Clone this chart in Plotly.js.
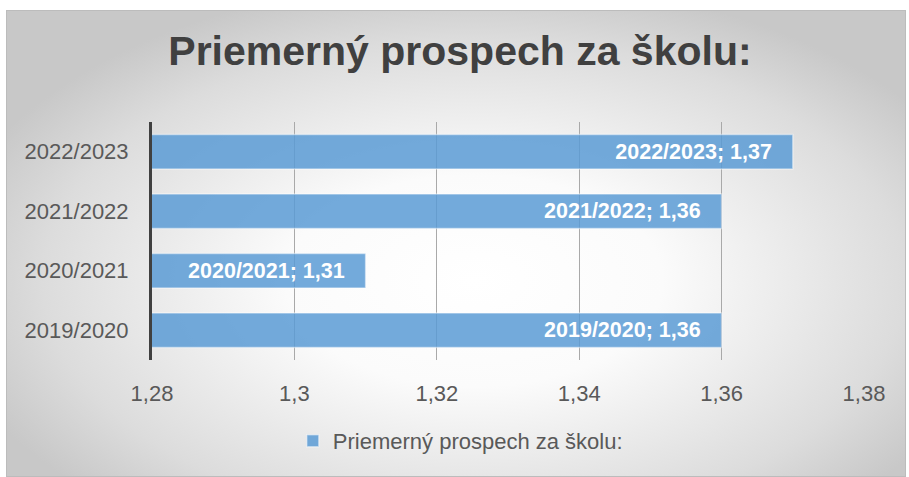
<!DOCTYPE html>
<html>
<head>
<meta charset="utf-8">
<script src="https://cdn.plot.ly/plotly-3.0.1.min.js"></script>
<style>
  html, body { margin: 0; padding: 0; background: #ffffff; }
  #wrap { position: relative; width: 909px; height: 477px; overflow: hidden; }
  #bg {
    position: absolute; left: 6px; top: 10px; width: 900px; height: 467px;
    box-sizing: border-box; border: 1px solid #bcbcbc;
    background: radial-gradient(ellipse 60% 65% at 52% 58%, #ffffff 0%, #fbfbfb 35%, #dcdcdc 80%, #c8c8c8 100%);
  }
  #chart { position: absolute; left: 0; top: 0; width: 909px; height: 477px; }
</style>
</head>
<body>
<div id="wrap">
  <div id="bg"></div>
  <div id="chart"></div>
</div>
<script>
const categories = ['2019/2020', '2020/2021', '2021/2022', '2022/2023'];
const values = [1.36, 1.31, 1.36, 1.37];
const valueLabels = ['1,36', '1,31', '1,36', '1,37'];
const seriesName = 'Priemerný prospech za školu:';
const chartTitle = 'Priemerný prospech za školu:';

const pad = '\u00a0\u00a0\u00a0';
const labels = categories.map((c, i) => c + '; ' + valueLabels[i] + pad);

const trace = {
  type: 'bar',
  orientation: 'h',
  y: categories,
  x: values,
  name: seriesName,
  text: labels,
  textposition: 'inside',
  insidetextanchor: 'end',
  constraintext: 'none',
  textfont: { family: 'Liberation Sans, Arial, sans-serif', size: 21.5, color: '#ffffff', weight: 'bold' },
  marker: { color: 'rgba(91,155,213,0.85)', line: { color: 'rgba(255,255,255,0.45)', width: 1.5 } },
  hoverinfo: 'none',
  width: 0.58
};

const layout = {
  width: 909, height: 477,
  paper_bgcolor: 'rgba(0,0,0,0)',
  plot_bgcolor: 'rgba(0,0,0,0)',
  separators: ', ',
  margin: { l: 152, r: 45, t: 122, b: 117 },
  font: { family: 'Liberation Sans, Arial, sans-serif', color: '#595959' },
  title: {
    text: '<b>' + chartTitle + '</b>',
    font: { family: 'Liberation Sans, Arial, sans-serif', size: 41, color: '#404040' },
    x: 0.506, xanchor: 'center',
    yref: 'container', y: 1 - 51 / 477, yanchor: 'middle'
  },
  xaxis: {
    range: [1.28, 1.38],
    tick0: 1.28, dtick: 0.02,
    showgrid: true, gridcolor: '#a9a9a9', gridwidth: 1,
    zeroline: false, showline: false,
    ticks: '', ticklabelstandoff: 18,
    tickfont: { size: 22, color: '#595959' },
    fixedrange: true
  },
  yaxis: {
    type: 'category',
    showgrid: false, zeroline: false,
    showline: true, linecolor: '#404040', linewidth: 3,
    ticks: '', ticklabelstandoff: 16,
    tickfont: { size: 22, color: '#595959' },
    fixedrange: true
  },
  showlegend: true,
  legend: {
    orientation: 'h',
    x: 0.433, xanchor: 'center',
    y: -0.34, yanchor: 'middle',
    font: { size: 22, color: '#595959' },
    bgcolor: 'rgba(0,0,0,0)'
  },
  bargap: 0.42
};

Plotly.newPlot('chart', [trace], layout, { displayModeBar: false, staticPlot: true });
</script>
</body>
</html>
